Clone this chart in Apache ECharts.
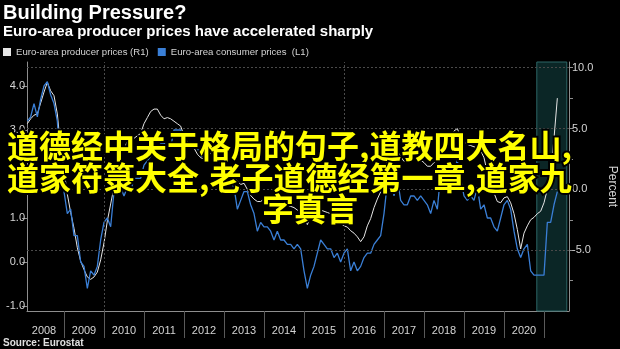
<!DOCTYPE html>
<html>
<head>
<meta charset="utf-8">
<script src="https://cdn.jsdelivr.net/npm/echarts@6/dist/echarts.min.js"></script>
<style>
  html, body { margin: 0; padding: 0; background: #000; }
  #chart { width: 620px; height: 349px; }
</style>
</head>
<body>
<div id="chart"></div>
<script>
// Monthly series, January 2008 through April 2021 (year-over-year, %)
const firstYear = 2008;

// Euro-area HICP, left axis
const consumerPrices = [
  3.2, 3.3, 3.6, 3.3, 3.7, 4.0, 4.1, 3.8, 3.6, 3.2, 2.1, 1.6,   // 2008
  1.1, 1.2, 0.6, 0.6, 0.0, -0.1, -0.6, -0.2, -0.3, -0.1, 0.5, 0.9, // 2009
  1.0, 0.8, 1.6, 1.6, 1.7, 1.5, 1.7, 1.6, 1.9, 1.9, 1.9, 2.2,   // 2010
  2.3, 2.4, 2.7, 2.8, 2.7, 2.7, 2.6, 2.6, 3.0, 3.0, 3.0, 2.7,   // 2011
  2.7, 2.7, 2.7, 2.6, 2.4, 2.4, 2.4, 2.6, 2.6, 2.5, 2.2, 2.2,   // 2012
  2.0, 1.8, 1.7, 1.2, 1.4, 1.6, 1.6, 1.3, 1.1, 0.7, 0.9, 0.8,   // 2013
  0.8, 0.7, 0.5, 0.7, 0.5, 0.5, 0.4, 0.4, 0.3, 0.4, 0.3, -0.2,  // 2014
  -0.6, -0.3, -0.1, 0.2, 0.5, 0.4, 0.3, 0.3, 0.1, 0.2, 0.0, 0.2, // 2015
  0.3, -0.2, 0.0, -0.2, -0.1, 0.1, 0.2, 0.2, 0.4, 0.5, 0.6, 1.1, // 2016
  1.8, 2.0, 1.5, 1.9, 1.4, 1.3, 1.3, 1.5, 1.5, 1.4, 1.5, 1.4,   // 2017
  1.3, 1.1, 1.4, 1.2, 2.0, 2.0, 2.1, 2.0, 2.1, 2.3, 1.9, 1.5,   // 2018
  1.4, 1.5, 1.4, 1.7, 1.2, 1.3, 1.0, 1.0, 0.8, 0.7, 1.0, 1.3,   // 2019
  1.4, 1.2, 0.7, 0.3, 0.1, 0.3, 0.4, -0.2, -0.3, -0.3, -0.3, -0.3, // 2020
  0.9, 0.9, 1.3, 1.6                                           // 2021
];

// Euro-area industrial producer prices, right axis
const producerPrices = [
  5.4, 5.8, 6.1, 6.2, 7.1, 8.0, 8.8, 8.1, 7.7, 6.2, 3.4, 1.6,   // 2008
  -0.4, -1.9, -3.2, -4.8, -5.9, -6.6, -7.2, -7.4, -7.2, -6.8, -5.8, -4.4, // 2009
  -2.6, -1.2, 0.2, 1.8, 2.9, 3.2, 4.0, 3.9, 4.2, 4.4, 4.6, 5.4, // 2010
  5.9, 6.4, 6.6, 6.6, 6.1, 5.8, 5.9, 5.8, 5.6, 5.4, 5.2, 4.4,   // 2011
  3.9, 3.7, 3.4, 2.9, 2.6, 2.5, 2.6, 3.0, 3.0, 2.8, 2.4, 2.3,   // 2012
  1.9, 1.5, 1.0, 0.7, 0.4, 0.5, 0.0, -0.5, -0.8, -1.0, -1.0, -0.8, // 2013
  -1.1, -1.2, -1.1, -1.1, -1.2, -1.2, -1.3, -1.4, -1.5, -1.7, -1.9, -2.2, // 2014
  -2.9, -2.2, -1.9, -1.8, -1.7, -1.8, -1.9, -2.0, -2.1, -2.4, -2.8, -3.0, // 2015
  -3.1, -3.4, -3.6, -3.9, -4.3, -3.9, -3.0, -2.4, -1.5, -0.8, -0.2, 1.1, // 2016
  2.5, 3.5, 3.4, 3.2, 2.7, 2.3, 2.4, 2.6, 2.8, 2.5, 2.4, 2.2,   // 2017
  1.9, 1.9, 2.2, 2.4, 3.0, 3.5, 4.0, 4.3, 4.8, 5.0, 4.3, 3.9,   // 2018
  3.7, 3.6, 3.5, 3.4, 3.2, 2.6, 1.4, 0.5, -0.3, -1.0, -1.1, -0.7, // 2019
  -0.6, -1.1, -2.0, -3.3, -4.9, -3.6, -3.0, -2.5, -2.3, -2.0, -1.8, -1.1, // 2020
  0.0, 1.3, 4.2, 7.5                                           // 2021
];

// Axis ticks and labels
const yearTicks = [2009, 2010, 2011, 2012, 2013, 2014, 2015, 2016, 2017, 2018, 2019, 2020, 2021];
const yearLabels = [2008, 2009, 2010, 2011, 2012, 2013, 2014, 2015, 2016, 2017, 2018, 2019, 2020];
const leftTicks = [-1, 0, 1, 2, 3, 4];
const rightTicks = [-7.5, -5, -2.5, 0, 2.5, 5, 7.5, 10];
const rightLabels = [-5, 0, 5, 10];
const rightGridValues = [10, 5, 0, -5];
const gridYears = [2010, 2016];
const highlightedPeriod = [2020.82, 2021.57];

const producerName = 'Euro-area producer prices (R1)';
const consumerName = 'Euro-area consumer prices  (L1)';

// each value sits at the end of its month
function monthlyPoints(values) {
  return values.map((v, i) => [firstYear + (i + 1) / 12, v]);
}

const axisColor = '#8e8e8e';
const labelColor = '#d4d4d4';
const gridColor = '#4a4a4a';
const overlayFont = 'bold 32px "Noto Sans CJK SC"';

const chart = echarts.init(document.getElementById('chart'), null, { renderer: 'canvas' });

chart.setOption({
  backgroundColor: '#000',
  animation: false,
  grid: { left: 27, right: 51, top: 62, bottom: 38, containLabel: false, outerBoundsMode: 'none' },
  legend: {
    data: [producerName, consumerName],
    left: 3,
    top: 47,
    icon: 'rect',
    itemWidth: 8,
    itemHeight: 8,
    itemGap: 9,
    padding: 0,
    textStyle: { color: labelColor, fontSize: 9.6, fontFamily: 'Liberation Sans' }
  },
  xAxis: {
    type: 'value',
    min: 2008.075,
    max: 2021.625,
    axisLine: { onZero: false, lineStyle: { color: axisColor, width: 1 } },
    axisTick: { customValues: yearTicks, length: 27, lineStyle: { color: '#5a5a5a' } },
    axisLabel: {
      customValues: yearLabels.map(y => y + 0.5),
      formatter: v => String(Math.floor(v)),
      color: labelColor,
      fontSize: 11,
      fontFamily: 'Liberation Sans',
      margin: 14
    },
    splitLine: { show: false }
  },
  yAxis: [
    {
      type: 'value',
      position: 'left',
      min: -1.114,
      max: 4.545,
      axisLine: { show: true, onZero: false, lineStyle: { color: axisColor } },
      axisTick: { show: true, customValues: leftTicks, length: 5, lineStyle: { color: axisColor } },
      axisLabel: {
        customValues: leftTicks,
        formatter: v => v.toFixed(1),
        color: labelColor,
        fontSize: 11,
        fontFamily: 'Liberation Sans',
        margin: 2
      },
      splitLine: { show: false }
    },
    {
      type: 'value',
      position: 'right',
      min: -10,
      max: 10.47,
      name: 'Percent',
      nameLocation: 'middle',
      nameRotate: -90,
      nameGap: 37,
      nameTextStyle: { color: labelColor, fontSize: 12, fontFamily: 'Liberation Sans' },
      axisLine: { show: true, onZero: false, lineStyle: { color: axisColor } },
      axisTick: { show: true, customValues: rightTicks, length: 4, lineStyle: { color: axisColor } },
      axisLabel: {
        customValues: rightLabels,
        formatter: v => v.toFixed(1),
        color: labelColor,
        fontSize: 11,
        fontFamily: 'Liberation Sans',
        margin: 3
      },
      splitLine: { show: false }
    }
  ],
  series: [
    {
      // background layer: dotted grid and the highlighted recent period
      type: 'line',
      yAxisIndex: 1,
      data: [],
      silent: true,
      z: 1,
      markArea: {
        silent: true,
        itemStyle: { color: 'rgba(30, 100, 100, 0.38)', borderColor: '#2d6666', borderWidth: 1 },
        data: [[{ xAxis: highlightedPeriod[0] }, { xAxis: highlightedPeriod[1] }]]
      },
      markLine: {
        silent: true,
        symbol: 'none',
        label: { show: false },
        lineStyle: { color: gridColor, type: [2, 2], width: 1 },
        data: rightGridValues.map(v => ({ yAxis: v })).concat(gridYears.map(y => ({ xAxis: y })))
      }
    },
    {
      name: producerName,
      type: 'line',
      yAxisIndex: 1,
      data: monthlyPoints(producerPrices),
      showSymbol: false,
      color: '#e6e6e6',
      lineStyle: { color: '#e6e6e6', width: 1 },
      z: 3
    },
    {
      name: consumerName,
      type: 'line',
      yAxisIndex: 0,
      data: monthlyPoints(consumerPrices),
      showSymbol: false,
      color: '#3a7fd6',
      lineStyle: { color: '#3a7fd6', width: 1.3 },
      z: 4
    }
  ],
  graphic: [
    {
      type: 'text', left: 3, top: 3, z: 10,
      style: { text: 'Building Pressure?', fill: '#ffffff', font: 'bold 20px "Liberation Sans"' }
    },
    {
      type: 'text', left: 3, top: 24, z: 10,
      style: { text: 'Euro-area producer prices have accelerated sharply', fill: '#ffffff', font: 'bold 15px "Liberation Sans"' }
    },
    {
      type: 'text', left: 3, top: 338, z: 10,
      style: { text: 'Source: Eurostat', fill: '#e0e0e0', font: 'bold 10px "Liberation Sans"' }
    },
    {
      type: 'text', z: 20, x: 7, y: 146,
      style: {
        text: '道德经中关于格局的句子,道教四大名山,',
        fill: '#ffff00', stroke: '#000', lineWidth: 4, strokeFirst: true,
        font: overlayFont, textAlign: 'left', textVerticalAlign: 'middle'
      }
    },
    {
      type: 'text', z: 20, x: 7, y: 177.5,
      style: {
        text: '道家符箓大全,老子道德经第一章,道家九',
        fill: '#ffff00', stroke: '#000', lineWidth: 4, strokeFirst: true,
        font: overlayFont, textAlign: 'left', textVerticalAlign: 'middle'
      }
    },
    {
      type: 'text', z: 20, x: 310, y: 209,
      style: {
        text: '字真言',
        fill: '#ffff00', stroke: '#000', lineWidth: 4, strokeFirst: true,
        font: overlayFont, textAlign: 'center', textVerticalAlign: 'middle'
      }
    }
  ]
});
</script>
</body>
</html>
